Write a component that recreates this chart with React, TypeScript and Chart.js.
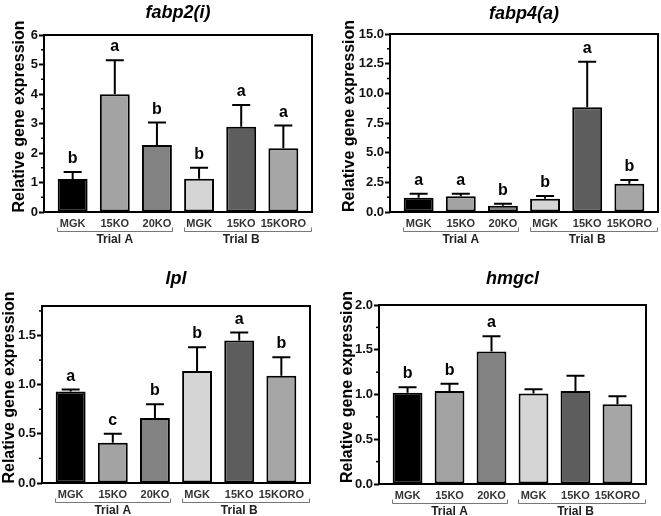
import React, { useEffect, useRef } from 'react';
import { Chart, registerables } from 'chart.js';
Chart.register(...registerables);

const categories = ['MGK', '15KO', '20KO', 'MGK', '15KO', '15KORO'];
const groupLabels = ['Trial A', 'Trial B'];
const groupStart = [0, 3];
const groupMid = [1, 4];
const groupEnd = [2, 5];
const barColors = ['#000000', '#a3a3a3', '#828282', '#d5d5d5', '#5d5d5d', '#a6a6a6'];

const fabp2Mean = [1.12, 3.99, 2.27, 1.13, 2.89, 2.16];
const fabp2Sem = [0.24, 1.15, 0.76, 0.37, 0.74, 0.77];
const fabp2Letters = ['b', 'a', 'b', 'b', 'a', 'a'];
const fabp2Ticks = [0, 1, 2, 3, 4, 5, 6];

const fabp4Mean = [1.2, 1.32, 0.53, 1.12, 8.82, 2.38];
const fabp4Sem = [0.34, 0.22, 0.17, 0.23, 3.84, 0.32];
const fabp4Letters = ['a', 'a', 'b', 'b', 'a', 'b'];
const fabp4Ticks = [0, 2.5, 5, 7.5, 10, 12.5, 15];

const lplMean = [0.93, 0.41, 0.66, 1.14, 1.45, 1.09];
const lplSem = [0.02, 0.09, 0.14, 0.24, 0.08, 0.19];
const lplLetters = ['a', 'c', 'b', 'b', 'a', 'b'];
const lplTicks = [0, 0.5, 1, 1.5];

const hmgclMean = [1.02, 1.04, 1.48, 1.01, 1.04, 0.89];
const hmgclSem = [0.06, 0.08, 0.17, 0.05, 0.17, 0.09];
const hmgclLetters = ['b', 'b', 'a', '', '', ''];
const hmgclTicks = [0, 0.5, 1, 1.5, 2];

const FONT = '"Liberation Sans", Arial, Helvetica, sans-serif';

type Panel = {
  title: string;
  mean: number[];
  sem: number[];
  letters: string[];
  ticks: number[];
  max: number;
  minor: number;
  decimals: number;
  left: number;
  top: number;
  width: number;
  height: number;
  pad: { left: number; right: number; top: number; bottom: number };
  titleY: number;
  yTitleX: number;
  yTitleY: number;
};

const panels: Panel[] = [
  {
    title: 'fabp2(i)', mean: fabp2Mean, sem: fabp2Sem, letters: fabp2Letters, ticks: fabp2Ticks,
    max: 6, minor: 0.5, decimals: 0,
    left: 0, top: 0, width: 330, height: 258,
    pad: { left: 4, right: 18, top: 35, bottom: 46 },
    titleY: 18, yTitleX: 23.5, yTitleY: 116.5,
  },
  {
    title: 'fabp4(a)', mean: fabp4Mean, sem: fabp4Sem, letters: fabp4Letters, ticks: fabp4Ticks,
    max: 15, minor: 1.25, decimals: 1,
    left: 330, top: 0, width: 331, height: 258,
    pad: { left: 20, right: 3, top: 34, bottom: 46 },
    titleY: 19, yTitleX: 23.5, yTitleY: 116,
  },
  {
    title: 'lpl', mean: lplMean, sem: lplSem, letters: lplLetters, ticks: lplTicks,
    max: 1.8, minor: 0.25, decimals: 1,
    left: 0, top: 258, width: 330, height: 258,
    pad: { left: 2, right: 20, top: 48, bottom: 33 },
    titleY: 26, yTitleX: 13.5, yTitleY: 129.5,
  },
  {
    title: 'hmgcl', mean: hmgclMean, sem: hmgclSem, letters: hmgclLetters, ticks: hmgclTicks,
    max: 2, minor: 0.25, decimals: 1,
    left: 330, top: 258, width: 331, height: 258,
    pad: { left: 9, right: 15, top: 47, bottom: 32 },
    titleY: 26, yTitleX: 22, yTitleY: 129,
  },
];

function makePlugin(p: Panel) {
  return {
    id: 'annot',
    afterDatasetsDraw(chart: any) {
      const ctx: CanvasRenderingContext2D = chart.ctx;
      const a = chart.chartArea;
      const xs = chart.scales.x;
      const ys = chart.scales.y;
      ctx.save();

      // error bars (upper only)
      ctx.strokeStyle = '#000';
      ctx.lineWidth = 2;
      p.mean.forEach((m, i) => {
        const x = xs.getPixelForValue(i);
        const y0 = ys.getPixelForValue(m);
        const y1 = ys.getPixelForValue(m + p.sem[i]);
        ctx.beginPath();
        ctx.moveTo(x, y0);
        ctx.lineTo(x, y1);
        ctx.moveTo(x - 9, y1);
        ctx.lineTo(x + 9, y1);
        ctx.stroke();
      });

      // frame
      ctx.lineWidth = 2;
      ctx.strokeRect(a.left, a.top, a.right - a.left, a.bottom - a.top);

      // minor ticks
      ctx.lineWidth = 1.5;
      for (let v = p.minor; v < p.max + 1e-9; v += p.minor) {
        if (p.ticks.some((t) => Math.abs(t - v) < 1e-6)) continue;
        const y = ys.getPixelForValue(v);
        ctx.beginPath();
        ctx.moveTo(a.left - 3, y);
        ctx.lineTo(a.left, y);
        ctx.stroke();
      }

      // significance letters
      ctx.fillStyle = '#000';
      ctx.textAlign = 'center';
      ctx.textBaseline = 'alphabetic';
      ctx.font = `bold 16px ${FONT}`;
      p.letters.forEach((l, i) => {
        if (!l) return;
        const x = xs.getPixelForValue(i);
        const y1 = ys.getPixelForValue(p.mean[i] + p.sem[i]);
        ctx.fillText(l, x, y1 - 9);
      });

      // title
      ctx.font = `italic bold 18px ${FONT}`;
      ctx.fillText(p.title, (a.left + a.right) / 2, p.titleY);

      // y axis title
      ctx.save();
      ctx.translate(p.yTitleX, p.yTitleY);
      ctx.rotate(-Math.PI / 2);
      ctx.font = `bold 16px ${FONT}`;
      ctx.fillText('Relative gene expression', 0, 0);
      ctx.restore();

      // category labels
      ctx.font = `bold 11px ${FONT}`;
      ctx.fillStyle = '#333';
      categories.forEach((c, i) => {
        ctx.fillText(c, xs.getPixelForValue(i), a.bottom + 14.5);
      });

      // group brackets
      ctx.strokeStyle = '#777';
      ctx.lineWidth = 1;
      const by = Math.round(a.bottom + 19) + 0.5;
      groupLabels.forEach((g, k) => {
        const x0 = Math.round(xs.getPixelForValue(groupStart[k]) - 15.5) + 0.5;
        const x1 =
          k === groupLabels.length - 1
            ? Math.round(a.right - 1) + 0.5
            : Math.round(xs.getPixelForValue(groupEnd[k]) + 15.5) + 0.5;
        ctx.beginPath();
        ctx.moveTo(x0, by - 4);
        ctx.lineTo(x0, by);
        ctx.lineTo(x1, by);
        ctx.lineTo(x1, by - 4);
        ctx.stroke();
        ctx.font = `bold 12px ${FONT}`;
        ctx.fillStyle = '#222';
        ctx.fillText(g, xs.getPixelForValue(groupMid[k]), a.bottom + 31);
      });

      ctx.restore();
    },
  };
}

function PanelChart({ p }: { p: Panel }) {
  const ref = useRef<HTMLCanvasElement>(null);
  useEffect(() => {
    if (!ref.current) return;
    const chart = new Chart(ref.current, {
      type: 'bar',
      data: {
        labels: categories,
        datasets: [
          {
            data: p.mean.map((y, i) => ({ x: i, y })),
            backgroundColor: barColors,
            borderColor: '#000',
            borderWidth: 2,
            borderSkipped: false,
            barPercentage: 0.71,
            categoryPercentage: 1,
          } as any,
        ],
      },
      options: {
        responsive: false,
        animation: false,
        devicePixelRatio: 1,
        events: [],
        layout: { padding: p.pad },
        plugins: {
          legend: { display: false },
          tooltip: { enabled: false },
          title: { display: false },
        },
        scales: {
          x: {
            type: 'linear',
            min: -0.68,
            max: 5.68,
            offset: false,
            display: false,
            grid: { offset: false },
            afterBuildTicks: (s: any) => {
              s.ticks = categories.map((_, i) => ({ value: i }));
            },
          },
          y: {
            type: 'linear',
            min: 0,
            max: p.max,
            afterBuildTicks: (s: any) => {
              s.ticks = p.ticks.map((v) => ({ value: v }));
            },
            afterFit: (s: any) => {
              s.width = 40;
            },
            ticks: {
              font: { family: FONT, size: 13, weight: 'bold' },
              color: '#111',
              padding: 1,
              callback: (v: any) => Number(v).toFixed(p.decimals),
            },
            grid: {
              drawOnChartArea: false,
              drawTicks: true,
              tickLength: 5,
              tickColor: '#000',
              tickWidth: 2,
            },
            border: { display: false },
          },
        } as any,
      },
      plugins: [makePlugin(p)],
    });
    return () => chart.destroy();
  }, [p]);
  return (
    <canvas
      ref={ref}
      width={p.width}
      height={p.height}
      style={{ position: 'absolute', left: p.left, top: p.top, width: p.width, height: p.height, display: 'block' }}
    />
  );
}

export default function App() {
  return (
    <div style={{ position: 'absolute', left: 0, top: 0, width: 661, height: 516, background: '#fff' }}>
      {panels.map((p) => (
        <PanelChart key={p.title} p={p} />
      ))}
    </div>
  );
}
